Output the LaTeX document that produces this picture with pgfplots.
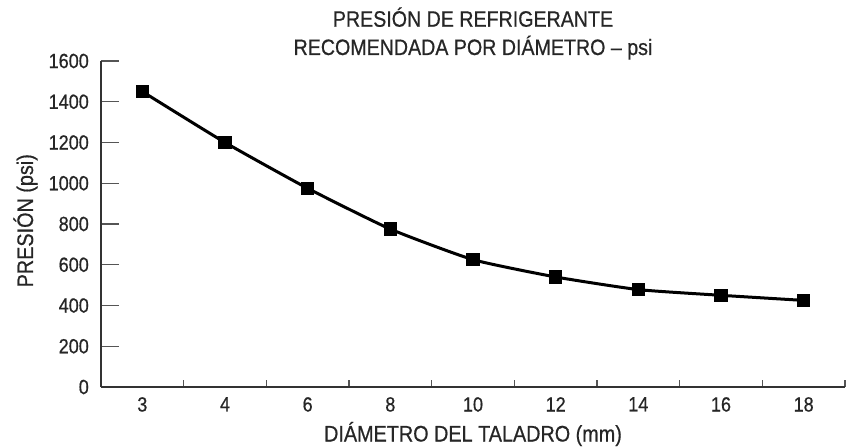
\documentclass[border=0pt]{standalone}
\usepackage{fontspec}
\setmainfont{Liberation Sans}[FakeStretch=0.88, FakeBold=0.6]
\usepackage{pgfplots}
\pgfplotsset{compat=1.18}
\definecolor{axgray}{HTML}{333333}
\definecolor{tickgray}{HTML}{555555}
\begin{document}
\begin{tikzpicture}
\begin{axis}[
  name=ax,
  scale only axis,
  width=744pt, height=326pt,
  xmin=-0.5, xmax=8.5, ymin=0, ymax=1600,
  axis x line=bottom, axis y line=left,
  axis line style={-, draw=axgray, line width=1.3pt},
  xtick={0,1,2,3,4,5,6,7,8},
  xticklabels={3,4,6,8,10,12,14,16,18},
  xtick style={draw=none},
  minor xtick={-0.5,0.5,1.5,2.5,3.5,4.5,5.5,6.5,7.5,8.5},
  minor tick length=7pt,
  minor x tick style={draw=tickgray, line width=1.3pt},
  ytick={0,200,400,600,800,1000,1200,1400,1600},
  major tick length=18pt,
  tick align=inside,
  y tick style={draw=tickgray, line width=1.3pt},
  /pgf/number format/assume math mode=true,
  /pgf/number format/1000 sep={},
  tick label style={font=\fontsize{20.5}{24}\selectfont, text=black!85},
  yticklabel style={inner sep=0pt, anchor=east, xshift=-12pt},
  xticklabel style={inner sep=0pt, anchor=north, yshift=-10pt},
  xlabel={DIÁMETRO DEL TALADRO (mm)},
  ylabel={PRESIÓN (psi)},
  label style={font=\fontsize{22.5}{25}\selectfont, text=black!85},
  xlabel style={at={(axis description cs:0.5,0)}, anchor=base, yshift=-54.5pt, inner sep=0pt},
  ylabel style={at={(axis description cs:-0.0914,0.51)}, anchor=base, inner sep=0pt},
  clip=false,
]
\addplot[black, line width=3pt, smooth, tension=0.3, mark=square*, mark size=5.3pt,
  mark options={solid, fill=black}]
  coordinates {(0,1450) (1,1200) (2,975) (3,775) (4,625) (5,540) (6,478) (7,450) (8,425)};
\node[anchor=base, inner sep=0pt, text=black!85, font=\fontsize{22.3}{25}\selectfont] at (rel axis cs:0.5,1) [yshift=34.3pt] {PRESIÓN DE REFRIGERANTE};
\node[anchor=base, inner sep=0pt, text=black!85, font=\fontsize{22.3}{25}\selectfont] at (rel axis cs:0.5,1) [yshift=6pt] {RECOMENDADA POR DIÁMETRO -- psi};
\end{axis}
\path ([xshift=-101pt,yshift=-60pt]ax.south west) rectangle ([xshift=11pt,yshift=61pt]ax.north east);
\end{tikzpicture}
\end{document}
